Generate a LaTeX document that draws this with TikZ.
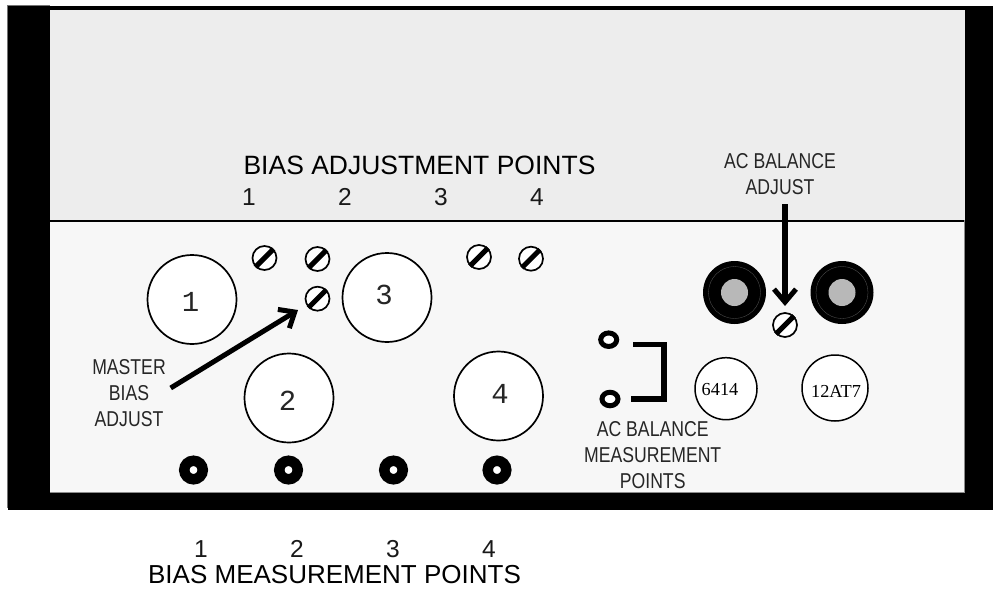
\documentclass[tikz,border=0pt]{standalone}
\usepackage{fontspec}
\setmainfont{Liberation Sans}
\newfontfamily\narrowfont[FakeStretch=0.82]{Liberation Sans}
\newfontfamily\tubemono{Liberation Mono}
\newfontfamily\tubeserif{Liberation Serif}
\usetikzlibrary{arrows.meta,shapes.geometric}
\tikzset{
  x=1pt,y=-1pt,
  tube/.style={circle,draw=black,line width=1.7pt,fill=white,inner sep=0pt,minimum size=#1},
  tubenum/.style={inner sep=0pt,text=black!85,font=\tubemono\fontsize{29}{29}\selectfont},
  smalltube/.style={circle,draw=black,line width=1.5pt,fill=white,inner sep=0pt,minimum size=#1},
  serifnum/.style={font=\tubeserif\fontsize{18.3}{18.3}\selectfont,inner sep=0pt},
  screwhead/.style={circle,draw=black,line width=1.7pt,fill=white,inner sep=0pt,minimum size=24pt},
  slot/.style={line width=5pt,black},
  jack/.style={circle,draw=black,line width=10.5pt,fill=white,inner sep=0pt,minimum size=18.5pt},
  socket/.style={circle,fill=black,inner sep=0pt,minimum size=63pt},
  socketring/.style={circle,draw=black!65,line width=0.3pt,inner sep=0pt,minimum size=52pt},
  socketcore/.style={circle,fill=black!28,inner sep=0pt,minimum size=27pt},
  ring/.style={ellipse,draw=black,line width=5pt,fill=white,inner sep=0pt,minimum width=16pt,minimum height=13.5pt},
  biglabel/.style={font=\fontsize{#1}{#1}\selectfont,inner sep=0pt},
  numlabel/.style={font=\fontsize{24.5}{24.5}\selectfont,inner sep=0pt,text=black!90},
  narrowlabel/.style={font=\narrowfont\fontsize{21.5}{26}\selectfont,align=center,inner sep=0pt,text=black!85},
  callout/.style={line width=5pt,-{Straight Barb[length=13pt,width=22pt,line width=5pt]}},
}
\newcommand{\screwat}[2]{%
  \node[screwhead] (#1) at #2 {};
  \draw[slot] (#1.225) -- (#1.45);
}
\begin{document}
\begin{tikzpicture}
\useasboundingbox (0,0) rectangle (993,595);
\fill[white] (0,0) rectangle (993,595);
% housing
\fill[black] (7.5,6) rectangle (993,510);
\fill[black!55] (7,5) rectangle (50,6);
\fill[black!55] (6.5,6) rectangle (7.5,508);
\fill[black!7] (50,10) rectangle (965,220);
\fill[black!3] (50,220) rectangle (965,492);
\draw[black,line width=2pt] (50,220.5) -- (965,220.5);
\draw[black!45,line width=0.6pt] (50,492.5) -- (965,492.5);
\draw[black!45,line width=0.6pt] (964.7,220) -- (964.7,492);
% tubes
\node[tube=89pt] (t1) at (192,299.5) {};
\node[tube=89pt] (t3) at (387,297.5) {};
\node[tube=89pt] (t2) at (289,398) {};
\node[tube=89pt] (t4) at (498.5,396) {};
\node[tubenum] (n1) at (190.5,302) {1};
\node[tubenum] (n3) at (384,295) {3};
\node[tubenum] (n2) at (287.5,401) {2};
\node[tubenum] (n4) at (500,394) {4};
\node[smalltube=62pt] (t5) at (726,388.7) {};
\node[smalltube=66pt] (t6) at (835,388) {};
\node[serifnum] (n5) at (720,390) {6414};
\node[serifnum] (n6) at (836,391.7) {12AT7};
% screws
\screwat{s1}{(264.5,258)}
\screwat{s2}{(317.5,259)}
\screwat{s5}{(317.5,298.7)}
\screwat{s3}{(479,257)}
\screwat{s4}{(531,258.7)}
\screwat{s6}{(785,325)}
% sockets
\node[socket] (b1) at (734.5,292.5) {};
\node[socket] (b2) at (842,292.5) {};
\node[socketring] (r1) at (b1) {};
\node[socketring] (r2) at (b2) {};
\node[socketcore] (c1) at (b1) {};
\node[socketcore] (c2) at (b2) {};
% jacks
\node[jack] (j1) at (193.5,470) {};
\node[jack] (j2) at (288.5,470) {};
\node[jack] (j3) at (393.5,470) {};
\node[jack] (j4) at (497,470) {};
% AC measurement
\node[ring] (m1) at (608.7,339.7) {};
\node[ring] (m2) at (610,399) {};
\coordinate (k1) at (633,344.7);
\coordinate (k2) at (664,344.7);
\coordinate (k3) at (664,399);
\coordinate (k4) at (631,399);
\draw[black,line width=5.5pt] (k1) -- (k2) -- (k3) -- (k4);
% texts
\node[biglabel=26.5] (top) at (419.5,165) {BIAS ADJUSTMENT POINTS};
\node[numlabel] (a1) at (249,197) {1};
\node[numlabel] (a2) at (345,197) {2};
\node[numlabel] (a3) at (441,197) {3};
\node[numlabel] (a4) at (537,197) {4};
\node[numlabel] (m1n) at (201,549) {1};
\node[numlabel] (m2n) at (297,549) {2};
\node[numlabel] (m3n) at (393,549) {3};
\node[numlabel] (m4n) at (489,549) {4};
\node[biglabel=26] (bot) at (334.5,575) {BIAS MEASUREMENT POINTS};
\node[narrowlabel] (ml) at (129,393.5) {MASTER\\BIAS\\ADJUST};
\node[narrowlabel] (acl) at (780,174.5) {AC BALANCE\\ADJUST};
\node[narrowlabel] (mml) at (652.7,455) {AC BALANCE\\MEASUREMENT\\POINTS};
% arrows
\coordinate (ma) at (170.7,388);
\coordinate (mb) at (298,310);
\coordinate (aa) at (785,204);
\coordinate (ab) at (785,306);
\draw[callout] (ma) -- (mb);
\draw[callout,line width=6pt] (aa) -- (ab);
\end{tikzpicture}
\end{document}
